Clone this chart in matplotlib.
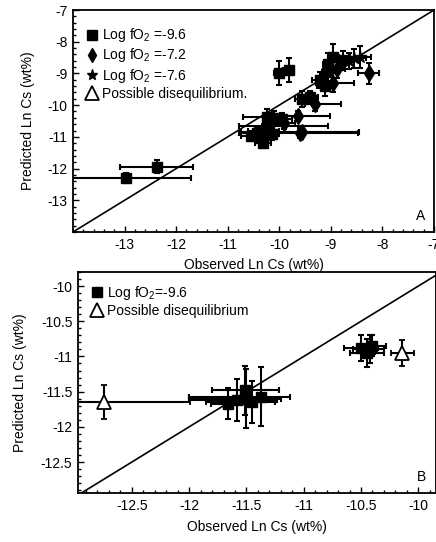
import matplotlib
matplotlib.use("Agg")
import matplotlib.pyplot as plt
from matplotlib.lines import Line2D
from matplotlib.ticker import AutoMinorLocator, FormatStrFormatter
import numpy as np

plt.rcParams['font.family'] = ['Liberation Sans', 'DejaVu Sans']
plt.rcParams['mathtext.fontset'] = 'custom'
plt.rcParams['mathtext.rm'] = 'Liberation Sans'
plt.rcParams['mathtext.it'] = 'Liberation Sans:italic'
plt.rcParams['axes.unicode_minus'] = False

# ---------------- Panel A data ----------------
a_sq_x = [-12.97, -12.38, -10.00, -9.82, -8.95, -9.05, -9.08, -8.76, -9.21, -9.12, -9.55, -9.40,
          -10.24, -10.10, -9.95, -10.55, -10.44, -10.32, -10.30, -10.15, -10.20, -10.35]
a_sq_y = [-12.30, -11.94, -8.98, -8.90, -8.47, -8.70, -8.95, -8.58, -9.21, -9.40, -9.80, -9.75,
          -10.36, -10.40, -10.45, -10.98, -10.89, -11.20, -10.80, -10.90, -10.66, -11.05]
a_sq_xlo = [1.30, 0.70, 0.10, 0.10, 0.10, 0.10, 0.10, 0.12, 0.15, 0.15, 0.15, 0.15,
            0.46, 0.20, 0.20, 0.20, 0.35, 0.15, 0.30, 0.15, 0.59, 0.20]
a_sq_xhi = [1.25, 0.70, 0.10, 0.10, 0.10, 0.10, 0.10, 0.12, 0.15, 0.15, 0.15, 0.15,
            0.30, 0.20, 0.20, 0.20, 0.15, 0.15, 0.30, 0.15, 1.15, 0.20]
a_sq_ye = [0.15, 0.20, 0.38, 0.38, 0.40, 0.35, 0.30, 0.30, 0.25, 0.30, 0.25, 0.20,
           0.25, 0.20, 0.20, 0.15, 0.20, 0.15, 0.20, 0.20, 0.15, 0.20]

a_di_x = [-8.27, -8.88, -8.95, -9.31, -9.63, -9.60, -9.55, -9.90]
a_di_y = [-9.00, -8.85, -9.30, -9.95, -10.33, -10.88, -10.85, -10.55]
a_di_xlo = [0.20, 0.15, 0.15, 0.20, 0.61, 1.19, 1.20, 0.20]
a_di_xhi = [0.20, 0.15, 0.40, 0.50, 0.61, 1.13, 1.10, 0.20]
a_di_ye = [0.32, 0.30, 0.30, 0.25, 0.15, 0.15, 0.12, 0.20]

a_st_x = [-8.56, -8.43, -8.65]
a_st_y = [-8.52, -8.47, -8.60]
a_st_xlo = [0.25, 0.20, 0.20]
a_st_xhi = [0.25, 0.20, 0.20]
a_st_ye = [0.30, 0.35, 0.25]

a_labels = [r"Log fO$_2$ =-9.6", r"Log fO$_2$ =-7.2", r"Log fO$_2$ =-7.6", "Possible disequilibrium."]
a_xticks = [-13, -12, -11, -10, -9, -8, -7]
a_yticks = [-13, -12, -11, -10, -9, -8, -7]

# ---------------- Panel B data ----------------
b_sq_x = [-10.50, -10.42, -10.40, -10.45, -11.66, -11.51, -11.50, -11.37, -11.58, -11.45]
b_sq_y = [-10.88, -10.90, -10.85, -10.95, -11.67, -11.48, -11.60, -11.57, -11.62, -11.65]
b_sq_xlo = [0.15, 0.15, 0.12, 0.15, 0.15, 0.29, 0.50, 0.63, 0.42, 0.40]
b_sq_xhi = [0.15, 0.12, 0.12, 0.15, 0.15, 0.29, 0.30, 0.25, 0.35, 0.20]
b_sq_ye = [0.18, 0.20, 0.15, 0.20, 0.22, 0.35, 0.42, 0.42, 0.30, 0.30]

b_tr_x = [-12.74, -10.14]
b_tr_y = [-11.65, -10.95]
b_tr_xe = [0.75, 0.10]
b_tr_ye = [0.24, 0.18]

b_labels = [r"Log fO$_2$=-9.6", "Possible disequilibrium"]
b_xticks = [-12.5, -12, -11.5, -11, -10.5, -10]
b_yticks = [-10, -10.5, -11, -11.5, -12, -12.5]

FS = 10
fig = plt.figure(figsize=(4.36, 5.42), dpi=100)

ebkw = dict(ecolor='black', elinewidth=1.5, capsize=2.2, capthick=1.5, linestyle='none',
            mec='black', mfc='black', zorder=3)


def style(ax, xt, yt, ylpad):
    ax.set_xticks(xt)
    ax.set_yticks(yt)
    ax.xaxis.set_major_formatter(FormatStrFormatter('%g'))
    ax.yaxis.set_major_formatter(FormatStrFormatter('%g'))
    ax.xaxis.set_minor_locator(AutoMinorLocator(5))
    ax.yaxis.set_minor_locator(AutoMinorLocator(5))
    ax.tick_params(which='both', direction='in', top=False, right=False, labelsize=FS, width=1)
    ax.tick_params(which='major', length=4, pad=4)
    ax.tick_params(which='minor', length=2)
    for s in ax.spines.values():
        s.set_linewidth(1.3)
    ax.set_xlabel("Observed Ln Cs (wt%)", fontsize=FS, labelpad=5)
    ax.set_ylabel("Predicted Ln Cs (wt%)", fontsize=FS, labelpad=ylpad)
    ax.axline((0, 0), slope=1, color='black', lw=1.2, zorder=2)


# Panel A
ax1 = fig.add_axes([73/436, 1-232/542, 361/436, 222/542])
ax1.set_xlim(-14, -7)
ax1.set_ylim(-14, -7)
style(ax1, a_xticks, a_yticks, 9)
ax1.errorbar(a_sq_x, a_sq_y, xerr=[a_sq_xlo, a_sq_xhi], yerr=a_sq_ye, marker='s', ms=7.5, **ebkw)
ax1.errorbar(a_di_x, a_di_y, xerr=[a_di_xlo, a_di_xhi], yerr=a_di_ye, marker='d', ms=8, **ebkw)
ax1.errorbar(a_st_x, a_st_y, xerr=[a_st_xlo, a_st_xhi], yerr=a_st_ye, marker='*', ms=9, **ebkw)
hA = [Line2D([], [], ls='none', marker='s', ms=7, color='black'),
      Line2D([], [], ls='none', marker='d', ms=7.5, color='black'),
      Line2D([], [], ls='none', marker='*', ms=8, color='black'),
      Line2D([], [], ls='none', marker='^', ms=10, mfc='white', mec='black', mew=1.3)]
ax1.legend(hA, a_labels, loc='upper left', frameon=False, fontsize=FS, handlelength=0.8,
           handletextpad=0.3, labelspacing=0.15, borderaxespad=0.3, bbox_to_anchor=(0.01, 0.97))
ax1.text(0.975, 0.04, "A", transform=ax1.transAxes, ha='right', va='bottom', fontsize=FS)

# Panel B
ax2 = fig.add_axes([78/436, 1-493/542, 357.5/436, 221/542])
ax2.set_xlim(-12.97, -9.85)
ax2.set_ylim(-12.94, -9.8)
style(ax2, b_xticks, b_yticks, 10)
ax2.errorbar(b_sq_x, b_sq_y, xerr=[b_sq_xlo, b_sq_xhi], yerr=b_sq_ye, marker='s', ms=7.5, **ebkw)
ax2.errorbar(b_tr_x, b_tr_y, xerr=b_tr_xe, yerr=b_tr_ye, marker='^', ms=10,
             ecolor='black', elinewidth=1.5, capsize=2.2, capthick=1.5, linestyle='none',
             mec='black', mfc='white', mew=1.3, zorder=3)
hB = [Line2D([], [], ls='none', marker='s', ms=7, color='black'),
      Line2D([], [], ls='none', marker='^', ms=10, mfc='white', mec='black', mew=1.3)]
ax2.legend(hB, b_labels, loc='upper left', frameon=False, fontsize=FS, handlelength=0.8,
           handletextpad=0.3, labelspacing=0.15, borderaxespad=0.3, bbox_to_anchor=(0.01, 0.99))
ax2.text(0.975, 0.04, "B", transform=ax2.transAxes, ha='right', va='bottom', fontsize=FS)

fig.savefig("out.png", dpi=100)
